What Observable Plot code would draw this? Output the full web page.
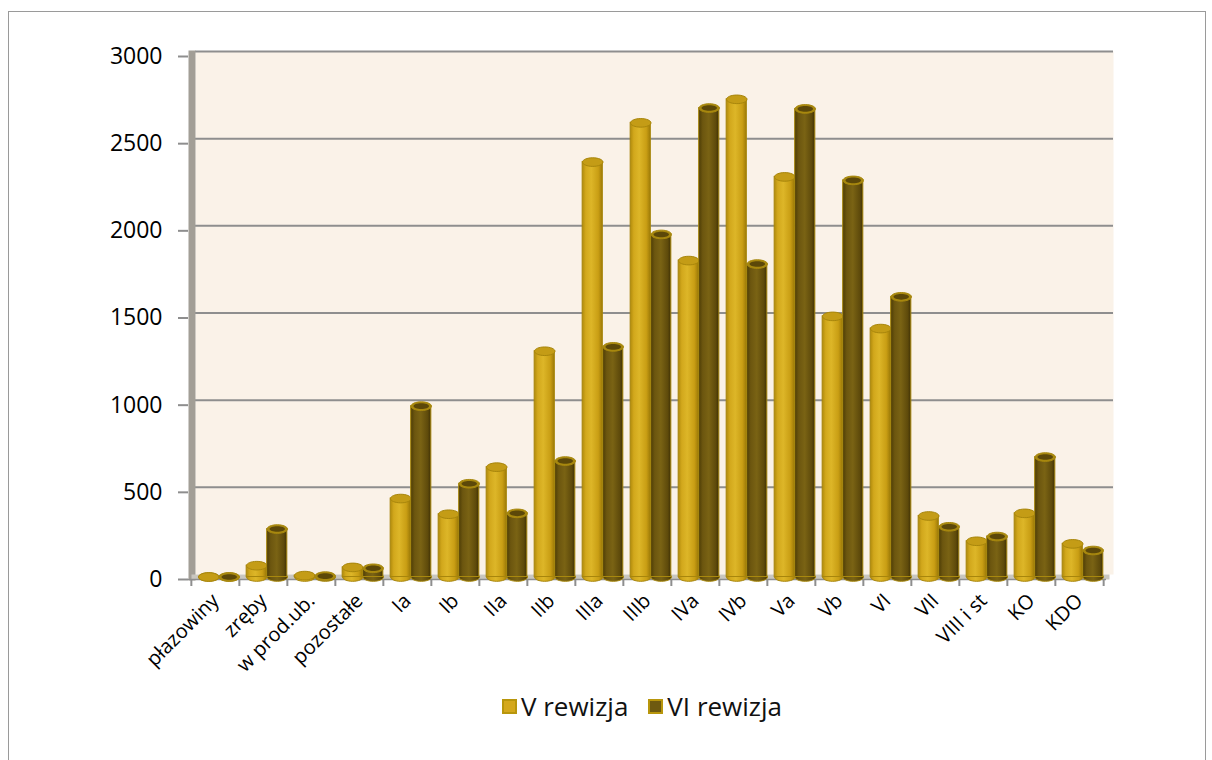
<!DOCTYPE html>
<html>
<head>
<meta charset="utf-8">
<script src="https://cdn.jsdelivr.net/npm/d3@7"></script>
<script src="https://cdn.jsdelivr.net/npm/@observablehq/plot@0.6"></script>
<style>
  html, body { margin: 0; padding: 0; background: #fff; width: 1212px; height: 760px; overflow: hidden; }
  #frame { position: absolute; left: 8px; top: 11px; width: 1198px; height: 800px; border: 1px solid #9a9a9a; box-sizing: border-box; }
  #chart { position: absolute; left: 0; top: 0; }
  #legend { position: absolute; top: 688px; left: 0; width: 1284px; display: flex; justify-content: center; gap: 20px;
    font-family: "Open Sans", sans-serif; font-size: 26px; color: #111; }
  .item { display: flex; align-items: center; gap: 4px; }
  .sw { width: 11px; height: 11px; border: 2px solid #B8960C; }
</style>
</head>
<body>
<div id="frame"></div>
<div id="chart"></div>
<div id="legend"></div>
<script>
const categories = ["płazowiny","zręby","w prod.ub.","pozostałe","Ia","Ib","IIa","IIb","IIIa","IIIb","IVa","IVb","Va","Vb","VI","VII","VIII i st","KO","KDO"];
const rewizjaV  = [0, 65, 8, 55, 450, 360, 630, 1295, 2380, 2605, 1815, 2740, 2295, 1495, 1425, 350, 205, 365, 190];
const rewizjaVI = [0, 275, 5, 50, 980, 535, 365, 665, 1320, 1965, 2690, 1795, 2685, 2275, 1607, 288, 232, 688, 152];
const yTicks = [0, 500, 1000, 1500, 2000, 2500, 3000];
const seriesNames = ["V rewizja", "VI rewizja"];
const seriesColors = ["#D4A81C", "#6E5A10"];

const data = categories.map((c, i) => ({cat: c, v: rewizjaV[i], vi: rewizjaVI[i]}));

const W = 1212, mL = 188, mR = 106, mT = 56, H = 680, mB = H - 579;
const bw = (W - mL - mR) / categories.length;
const barW = 20.5;
const inset = (bw - barW) / 2;
const depthX = 3.5, depthY = -2.5;

function ellipse(rx, ry) {
  const k = 0.5523;
  return {draw(ctx) {
    ctx.moveTo(-rx, 0);
    ctx.bezierCurveTo(-rx, -ry * k, -rx * k, -ry, 0, -ry);
    ctx.bezierCurveTo(rx * k, -ry, rx, -ry * k, rx, 0);
    ctx.bezierCurveTo(rx, ry * k, rx * k, ry, 0, ry);
    ctx.bezierCurveTo(-rx * k, ry, -rx, ry * k, -rx, 0);
    ctx.closePath();
  }};
}
const topOuter = ellipse(barW / 2, 4.3);
const topInner = ellipse(barW / 2 - 2.5, 2.8);

function series(key, dxs, grad, stroke, topFill, innerFill) {
  const marks = [
    Plot.dot(data, {x: "cat", y: () => 0, dx: dxs, dy: depthY, symbol: topOuter, fill: grad, stroke, strokeWidth: 1}),
    Plot.barY(data, {x: "cat", y: key, dx: dxs, dy: depthY, insetLeft: inset, insetRight: inset, fill: grad, stroke, strokeWidth: 1}),
    Plot.dot(data, {x: "cat", y: key, dx: dxs, dy: depthY, symbol: topOuter, fill: topFill, stroke, strokeWidth: 1})
  ];
  if (innerFill) marks.push(Plot.dot(data, {x: "cat", y: key, dx: dxs, dy: depthY, symbol: topInner, fill: innerFill, stroke: "none"}));
  return marks;
}

const lastCat = [categories[categories.length - 1]];

const plot = Plot.plot({
  width: W, height: H,
  marginLeft: mL, marginRight: mR, marginTop: mT, marginBottom: mB,
  style: {fontFamily: "'Open Sans', sans-serif", color: "#000", background: "transparent", overflow: "visible"},
  x: {type: "band", domain: categories, padding: 0, axis: null, label: null},
  y: {domain: [0, 3000], axis: null, label: null},
  marks: [
    Plot.frame({fill: "#FAF2E8", stroke: null, dx: 2 * depthX, dy: 2 * depthY}),
    Plot.ruleY(yTicks.slice(1), {stroke: "#8E8E8E", strokeWidth: 2, dx: 2 * depthX, dy: 2 * depthY}),
    Plot.frame({anchor: "left", stroke: "#A29E96", strokeWidth: 7, dx: depthX, dy: depthY}),
    Plot.ruleY([0], {stroke: "#C9C6BF", strokeWidth: 5, dx: depthX, dy: depthY}),
    Plot.ruleY([0], {stroke: "#8E8E8E", strokeWidth: 1.5}),
    Plot.axisY({ticks: yTicks, tickSize: 10, tickFormat: () => "", label: null, color: "#8E8E8E", strokeWidth: 2}),
    Plot.axisY({ticks: yTicks, tickSize: 0, tickPadding: 26, fontSize: 23, label: null, tickFormat: d => String(d)}),
    Plot.axisX({tickSize: 7, tickFormat: () => "", label: null, dx: -bw / 2, color: "#8E8E8E", strokeWidth: 2}),
    Plot.axisX(lastCat, {tickSize: 7, tickFormat: () => "", label: null, dx: bw / 2, color: "#8E8E8E", strokeWidth: 2}),
    Plot.axisX({tickSize: 0, tickPadding: 18, tickRotate: -45, fontSize: 20, label: null, dx: 0}),
    ...series("v", depthX - barW / 2, "url(#gV)", "#A8860C", "#C49C16", null),
    ...series("vi", depthX + barW / 2, "url(#gVI)", "#A8880E", "#A8890F", "#5C4809")
  ]
});

const defs = `<defs>
<linearGradient id="gV" x1="0" x2="1" y1="0" y2="0">
  <stop offset="0%" stop-color="#B08A0C"/>
  <stop offset="18%" stop-color="#D2A81C"/>
  <stop offset="45%" stop-color="#DDB628"/>
  <stop offset="80%" stop-color="#C99E14"/>
  <stop offset="100%" stop-color="#9E7A08"/>
</linearGradient>
<linearGradient id="gVI" x1="0" x2="1" y1="0" y2="0">
  <stop offset="0%" stop-color="#4C3C06"/>
  <stop offset="20%" stop-color="#6C560F"/>
  <stop offset="50%" stop-color="#7A6314"/>
  <stop offset="85%" stop-color="#5E4A0B"/>
  <stop offset="100%" stop-color="#3E3004"/>
</linearGradient>
</defs>`;
plot.insertAdjacentHTML("afterbegin", defs);
document.getElementById("chart").appendChild(plot);

const legend = document.getElementById("legend");
seriesNames.forEach((name, i) => {
  const it = document.createElement("div");
  it.className = "item";
  const sw = document.createElement("span");
  sw.className = "sw";
  sw.style.background = seriesColors[i];
  const tx = document.createElement("span");
  tx.textContent = name;
  it.appendChild(sw); it.appendChild(tx);
  legend.appendChild(it);
});
</script>
</body>
</html>
